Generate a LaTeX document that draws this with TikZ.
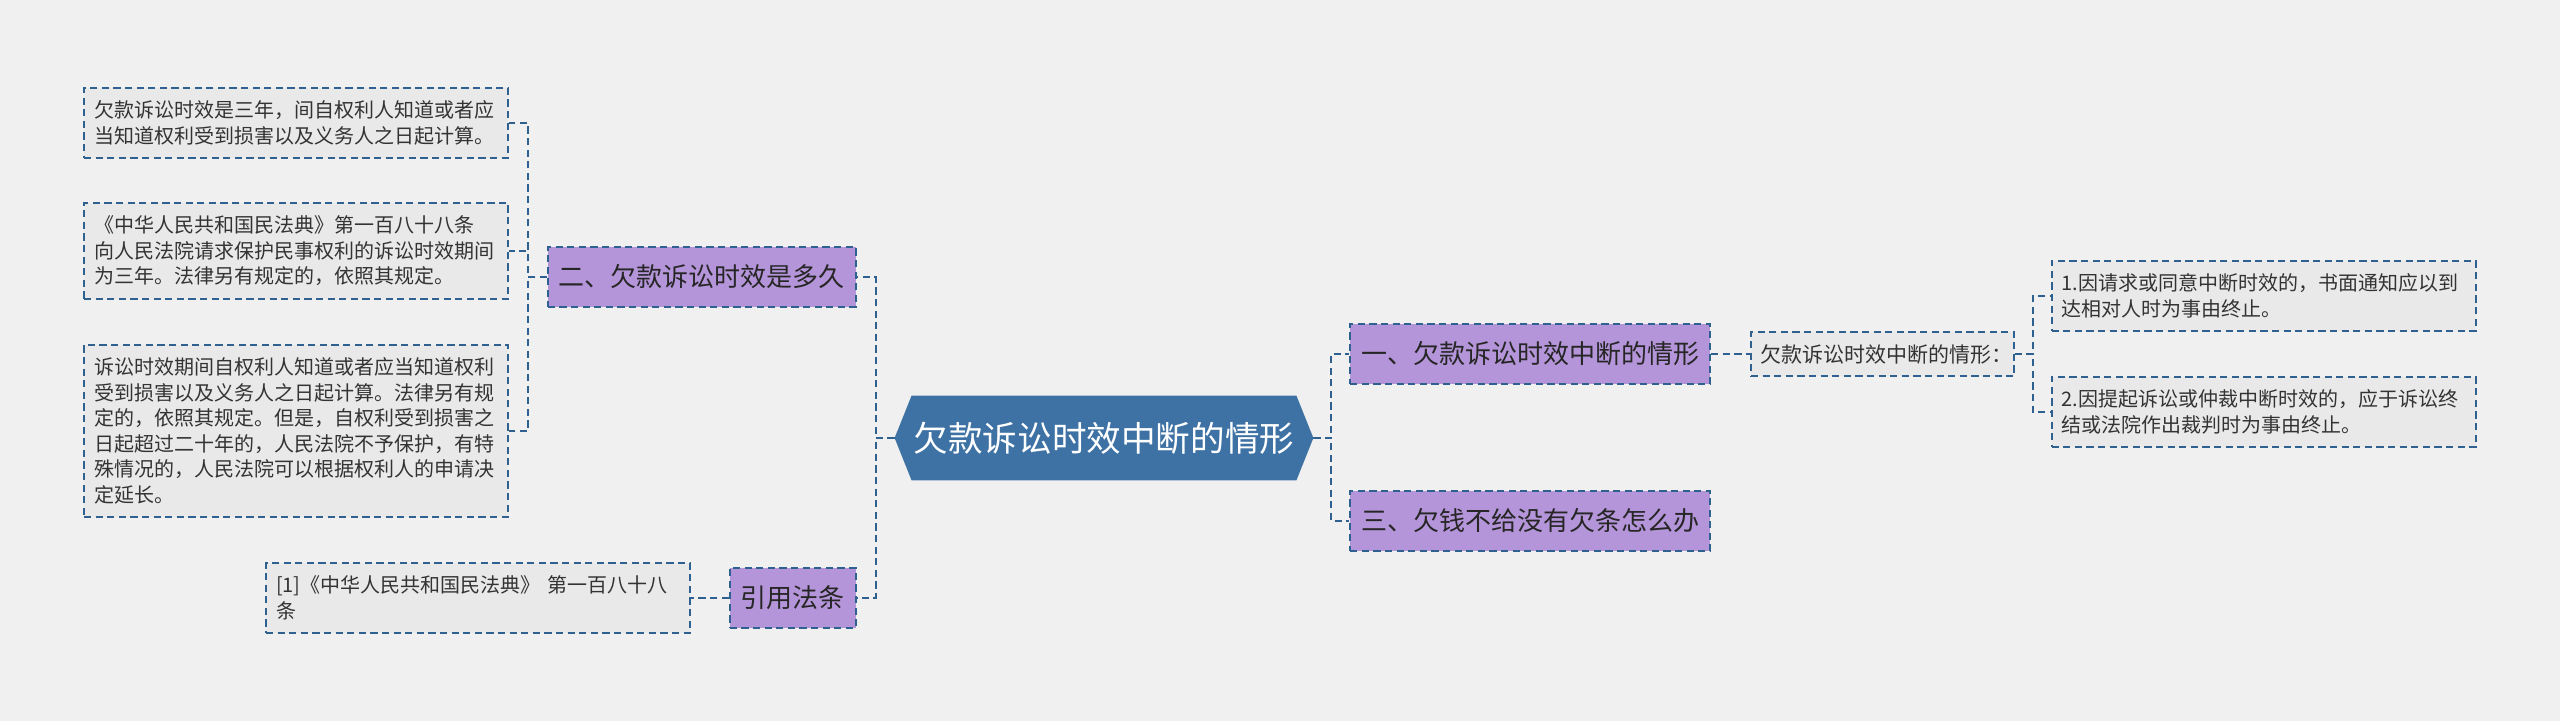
\documentclass[tikz,border=0pt]{standalone}
\usepackage{fontspec}
\setmainfont{Noto Sans CJK SC}
\usepackage{xcolor}
\usetikzlibrary{positioning,backgrounds}

\definecolor{bgcol}{HTML}{F0F0F0}
\definecolor{leafcol}{HTML}{E9E9E9}
\definecolor{linecol}{HTML}{2E6090}
\definecolor{topiccol}{HTML}{B595D9}
\definecolor{hubcol}{HTML}{3E72A4}
\definecolor{inkcol}{HTML}{333333}

\begin{document}
\begin{tikzpicture}[
  node distance=19pt,
  leaf/.style={rectangle, draw=linecol, fill=leafcol, line width=0.85pt, dash pattern=on 3.6pt off 2.2pt, align=left, text width=202pt, inner xsep=5pt, inner ysep=6.5pt, text=inkcol, font=\fontsize{10pt}{12.75pt}\selectfont},
  topic/.style={rectangle, draw=linecol, fill=topiccol, line width=0.85pt, dash pattern=on 3.6pt off 2.2pt, inner xsep=5.5pt, inner ysep=9pt, text=black!85, font=\fontsize{13pt}{15pt}\selectfont},
  hub/.style={rectangle, minimum width=192pt, minimum height=42pt, inner sep=0pt, text=white, font=\fontsize{17.3pt}{20pt}\selectfont},
  link/.style={draw=linecol, line width=1pt, dash pattern=on 3.6pt off 2.2pt}
]

% centre
\node[hub] (main) {欠款诉讼时效中断的情形};
\coordinate (mainW) at ([xshift=-8.5pt]main.west);
\coordinate (mainE) at ([xshift=8.5pt]main.east);

% right branches
\node[topic, right=18pt of mainE, yshift=42pt] (t1) {一、欠款诉讼时效中断的情形};
\node[topic, right=18pt of mainE, yshift=-41.5pt] (t3) {三、欠钱不给没有欠条怎么办};
\node[leaf, right=19.5pt of t1, text width=121.5pt, inner ysep=6.25pt, font=\fontsize{10.5pt}{12.75pt}\selectfont] (t1a) {欠款诉讼时效中断的情形：};
\node[leaf, right=18pt of t1a, yshift=29pt] (t1a1) {1.因请求或同意中断时效的，书面通知应以到\\达相对人时为事由终止。};
\node[leaf, right=18pt of t1a, yshift=-29pt] (t1a2) {2.因提起诉讼或仲裁中断时效的，应于诉讼终\\结或法院作出裁判时为事由终止。};

% left branches
\node[topic, left=19pt of mainW, yshift=80.5pt] (t2) {二、欠款诉讼时效是多久};
\node[topic, left=19pt of mainW, yshift=-80pt] (t4) {引用法条};
\node[leaf, left=19pt of t2, yshift=77pt] (t2a) {欠款诉讼时效是三年，间自权利人知道或者应\\当知道权利受到损害以及义务人之日起计算。};
\node[leaf, left=19pt of t2, yshift=13pt] (t2b) {《中华人民共和国民法典》第一百八十八条\\向人民法院请求保护民事权利的诉讼时效期间\\为三年。法律另有规定的，依照其规定。};
\node[leaf, left=19pt of t2, yshift=-77pt] (t2c) {诉讼时效期间自权利人知道或者应当知道权利\\受到损害以及义务人之日起计算。法律另有规\\定的，依照其规定。但是，自权利受到损害之\\日起超过二十年的，人民法院不予保护，有特\\殊情况的，人民法院可以根据权利人的申请决\\定延长。};
\node[leaf, left=19pt of t4] (t4a) {[1]《中华人民共和国民法典》 第一百八十八\\条};

\draw[link] (mainE) -- ++(9pt,0) |- (t1.west);
\draw[link] (mainE) -- ++(9pt,0) |- (t3.west);
\draw[link] (t1) -- (t1a);
\draw[link] (t1a.east) -- ++(9pt,0) |- (t1a1.west);
\draw[link] (t1a.east) -- ++(9pt,0) |- (t1a2.west);
\draw[link] (mainW) -- ++(-9.5pt,0) |- (t2.east);
\draw[link] (mainW) -- ++(-9.5pt,0) |- (t4.east);
\draw[link] (t2.west) -- ++(-9.5pt,0) |- (t2a.east);
\draw[link] (t2.west) -- ++(-9.5pt,0) |- (t2b.east);
\draw[link] (t2.west) -- ++(-9.5pt,0) |- (t2c.east);
\draw[link] (t4) -- (t4a);

\begin{scope}[on background layer]
\path[use as bounding box, fill=bgcol] (-552pt,-141.5pt) rectangle (728pt,219pt);
\fill[hubcol] (main.north west) -- (main.north east) -- (mainE) -- (main.south east)
  -- (main.south west) -- (mainW) -- cycle;
\end{scope}
\end{tikzpicture}
\end{document}
